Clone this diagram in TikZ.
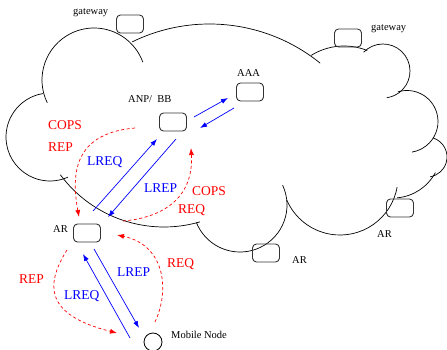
\documentclass[tikz,border=0pt]{standalone}
\usepackage{fontspec}
\setmainfont{Liberation Serif}
\usetikzlibrary{arrows.meta,calc}
\begin{document}
\begin{tikzpicture}[x=1pt,y=-1pt,
  box/.style={draw=black!80, line width=0.9pt, rounded corners=4pt,
    minimum width=27pt, minimum height=18pt, inner sep=0pt},
  host/.style={draw=black, line width=0.8pt, circle, minimum size=18pt, inner sep=0pt},
  lbl/.style={font=\fontsize{10.5}{12}\selectfont, inner sep=0pt, anchor=base west},
  clbl/.style={font=\fontsize{13.5}{15}\selectfont, inner sep=0pt, anchor=base west},
  redlbl/.style={clbl, text=red},
  bluelbl/.style={clbl, text=blue},
  cloudline/.style={line width=0.7pt},
  sig/.style={blue, line width=0.7pt, -{Latex[length=7pt,width=5pt]}},
  msg/.style={red, line width=0.7pt, dash pattern=on 3pt off 2.5pt,
    -{Latex[length=7pt,width=5pt]}}]
\useasboundingbox (0,0) rectangle (447,350);

% cloud outline, one arc per lobe
\draw[cloudline] (94,80) ++(154:52) arc[start angle=154, end angle=340, radius=52];
\draw[cloudline] (209.5,200) ++(244:176) arc[start angle=244, end angle=309, radius=176];
\draw[cloudline] (344,108) ++(238:62) arc[start angle=238, end angle=292, radius=62];
\draw[cloudline] (383,71) ++(224:27) arc[start angle=224, end angle=442, radius=27];
\draw[cloudline] (407,121.5) ++(253:31) arc[start angle=253, end angle=441, radius=31];
\draw[cloudline] (427,157) ++(287:20) arc[start angle=287, end angle=441, radius=20];
\draw[cloudline] (393,150) ++(28:48) arc[start angle=28, end angle=85, radius=48];
\draw[cloudline] (340,177) ++(10:58) arc[start angle=10, end angle=156.5, radius=58];
\draw[cloudline] (240,205) ++(-25:47) arc[start angle=-25, end angle=158, radius=47];
\draw[cloudline] (164,98) ++(73.8:129) arc[start angle=73.8, end angle=143.5, radius=129];
\draw[cloudline] (50,137) ++(261:44) arc[start angle=261, end angle=66, radius=44];

% network elements
\node[box] (gw1) at (130,24) {};
\node[box] (gw2) at (348,38) {};
\node[box] (aaa) at (250,92) {};
\node[box] (anp) at (173,122) {};
\node[box] (arL) at (87,233) {};
\node[box] (arR) at (400,208) {};
\node[box] (arB) at (266,253) {};
\node[host] (mn) at (153,342) {};

% element names
\node[lbl] (tgw1) at (73,15) {gateway};
\node[lbl] (tgw2) at (371,31) {gateway};
\node[lbl] (taaa) at (237,77) {AAA};
\node[lbl] (tanp) at (128,103) {ANP/\ \ BB};
\node[lbl] (tarL) at (53,232.5) {AR};
\node[lbl] (tarR) at (377,237) {AR};
\node[lbl] (tarB) at (292,263) {AR};
\node[lbl] (tmn) at (171,338) {Mobile Node};

% signalling between AR, ANP/BB and AAA
\draw[sig] ($(arL)+(6,-22)$) -- ($(anp)+(-16,17)$);
\draw[sig] ($(anp)+(3,17)$) -- ($(arL)+(21,-16)$);
\draw[sig] ($(anp)+(21,-5)$) -- ($(aaa)+(-22,6)$);
\draw[sig] ($(aaa)+(-16,16)$) -- ($(anp)+(27,6)$);
\draw[sig] ($(arL)+(7,16)$) -- ($(mn)+(-14,-14)$);
\draw[sig] ($(mn)+(-23,-4)$) -- ($(arL)+(-4,21)$);

% COPS / local request-reply exchanges
\draw[msg] ($(anp)+(-38,6)$) .. controls (78,133) and (70,168) .. ($(arL)+(-8,-16)$);
\draw[msg] ($(arL)+(36,-12)$) .. controls (160,218) and (194,200) .. ($(anp)+(18,26)$);
\draw[msg] ($(mn)+(2,-20)$) .. controls (170,290) and (165,245) .. ($(arL)+(30,2)$);
\draw[msg] ($(arL)+(-20,17)$) .. controls (45,285) and (45,315) .. ($(mn)+(-36,-9)$);

% message labels
\node[redlbl] (l1) at (48,130) {COPS};
\node[redlbl] (l2) at (48,151) {REP};
\node[bluelbl] (l3) at (87,165.5) {LREQ};
\node[bluelbl] (l4) at (144,192.5) {LREP};
\node[redlbl] (l5) at (192,195) {COPS};
\node[redlbl] (l6) at (178,213) {REQ};
\node[redlbl] (l7) at (167,267.5) {REQ};
\node[bluelbl] (l8) at (117,276.5) {LREP};
\node[bluelbl] (l9) at (64,299) {LREQ};
\node[redlbl] (l10) at (19,283) {REP};
\end{tikzpicture}
\end{document}
